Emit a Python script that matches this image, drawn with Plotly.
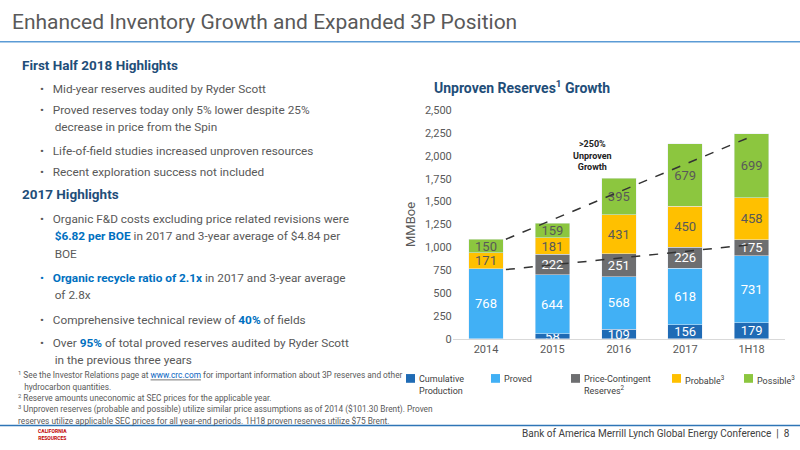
import plotly.graph_objects as go

periods = ['2014', '2015', '2016', '2017', '1H18']
cumulative = [0, 58, 109, 156, 179]
proved = [768, 644, 568, 618, 731]
price_contingent = [0, 222, 251, 226, 175]
probable = [171, 181, 431, 450, 458]
possible = [150, 159, 395, 679, 699]

series = [
    ('Cumulative<br>Production', cumulative, '#1F6BB5', 'white'),
    ('Proved', proved, '#41B0F5', 'white'),
    ('Price-Contingent<br>Reserves<sup>2</sup>', price_contingent, '#6D6E70', 'white'),
    ('Probable<sup>3</sup>', probable, '#FFC000', '#595959'),
    ('Possible<sup>3</sup>', possible, '#8CC63F', '#595959'),
]
legend_x = [406, 491, 571, 672, 744]  # px positions of legend swatches

FONT = 'Roboto'
GRAY = '#595959'
NAVY = '#1F4E79'
BLUE = '#0070C0'

fig = go.Figure()
for name, vals, color, tcol in series:
    fig.add_trace(go.Bar(
        x=periods, y=vals, name=name, marker_color=color, showlegend=False,
        text=[str(v) if v else '' for v in vals], textposition='inside',
        insidetextanchor='middle', textangle=0, constraintext='none',
        textfont=dict(size=13, color=tcol, family=FONT),
    ))

# custom legend
for (name, vals, color, tcol), lx in zip(series, legend_x):
    fig.add_shape(type='rect', xref='paper', yref='paper',
                  x0=lx / 800, x1=(lx + 9) / 800, y0=1 - 388 / 450, y1=1 - 379 / 450,
                  fillcolor=color, line_width=0)
    fig.add_annotation(x=(lx + 11) / 800, y=1 - 377 / 450, xref='paper', yref='paper',
                       xanchor='left', yanchor='top', align='left', showarrow=False,
                       text=name, font=dict(size=9, color='#404040', family=FONT))

totals = [sum(v) for v in zip(cumulative, proved, price_contingent, probable, possible)]
lower_top = [c + p for c, p in zip(cumulative, proved)]

# dashed trend lines
fig.add_shape(type='line', xref='x', yref='y', x0=0.3, y0=totals[0], x1=4, y1=totals[4] - 30,
              line=dict(color='#333333', width=1.5, dash='dash'))
fig.add_shape(type='line', xref='x', yref='y', x0=0.3, y0=lower_top[0] - 10, x1=4, y1=lower_top[4] + 120,
              line=dict(color='#333333', width=1.5, dash='dash'))

fig.add_annotation(x=1.6, y=2000, xref='x', yref='y', showarrow=False,
                   text='<b>>250%<br>Unproven<br>Growth</b>',
                   font=dict(size=9, color='#222222', family=FONT))

# slide chrome
fig.add_annotation(x=0.012, y=0.995, xref='paper', yref='paper', xanchor='left', yanchor='top',
                   showarrow=False, text='Enhanced Inventory Growth and Expanded 3P Position',
                   font=dict(size=21, color=GRAY, family=FONT))
fig.add_shape(type='line', xref='paper', yref='paper', x0=0, x1=1, y0=0.918, y1=0.918,
              line=dict(color='#5B9BD5', width=1.5))
fig.add_shape(type='line', xref='paper', yref='paper', x0=0, x1=1, y0=0.04, y1=0.04,
              line=dict(color='#2E75B6', width=1.5))
fig.add_annotation(x=0.99, y=0.005, xref='paper', yref='paper', xanchor='right', yanchor='bottom',
                   showarrow=False, text='Bank of America Merrill Lynch Global Energy Conference  |  8',
                   font=dict(size=10, color='#404040', family=FONT))
fig.add_annotation(x=0.045, y=0.0, xref='paper', yref='paper', xanchor='left', yanchor='bottom',
                   showarrow=False, text='<b>CALIFORNIA<br>RESOURCES</b>',
                   font=dict(size=5, color='#C00000', family=FONT))
fig.add_annotation(x=0.765, y=1 - 72 / 450, xref='paper', yref='paper', showarrow=False,
                   text='<b>Unproven Reserves<sup>1</sup> Growth</b>',
                   font=dict(size=14, color=NAVY, family=FONT))

B = 11.8
F = 8.3
left = [
    (61, 20, '<b>First Half 2018 Highlights</b>', 13.5, NAVY),
    (85, 38, '•   Mid-year reserves audited by Ryder Scott', B, GRAY),
    (107, 38, '•   Proved reserves today only 5% lower despite 25%', B, GRAY),
    (125, 38, '     decrease in price from the Spin', B, GRAY),
    (149, 38, '•   Life-of-field studies increased unproven resources', B, GRAY),
    (171, 38, '•   Recent exploration success not included', B, GRAY),
    (194, 20, '<b>2017 Highlights</b>', 13.5, NAVY),
    (219, 38, '•   Organic F&D costs excluding price related revisions were', B, GRAY),
    (237, 38, f'     <b><span style="color:{BLUE}">$6.82 per BOE</span></b> in 2017 and 3-year average of $4.84 per', B, GRAY),
    (255, 38, '     BOE', B, GRAY),
    (280, 38, f'<span style="color:{BLUE}">•   <b>Organic recycle ratio of 2.1x</b></span> in 2017 and 3-year average', B, GRAY),
    (298, 38, '     of 2.8x', B, GRAY),
    (323, 38, f'•   Comprehensive technical review of <b><span style="color:{BLUE}">40%</span></b> of fields', B, GRAY),
    (347, 38, f'•   Over <b><span style="color:{BLUE}">95%</span></b> of total proved reserves audited by Ryder Scott', B, GRAY),
    (365, 38, '     in the previous three years', B, GRAY),
    (380, 16, '<sup>1</sup> See the Investor Relations page at <u><span style="color:#0563C1">www.crc.com</span></u> for important information about 3P reserves and other', F, GRAY),
    (392, 16, '   hydrocarbon quantities.', F, GRAY),
    (404, 16, '<sup>2</sup> Reserve amounts uneconomic at SEC prices for the applicable year.', F, GRAY),
    (416, 16, '<sup>3</sup> Unproven reserves (probable and possible) utilize similar price assumptions as of 2014 ($101.30 Brent). Proven', F, GRAY),
    (427, 16, 'reserves utilize applicable SEC prices for all year-end periods. 1H18 proven reserves utilize $75 Brent.', F, GRAY),
]
for ypx, xpx, txt, size, col in left:
    fig.add_annotation(x=xpx / 800, y=1 - ypx / 450, xref='paper', yref='paper', xanchor='left', yanchor='middle',
                       showarrow=False, text=txt, font=dict(size=size, color=col, family=FONT))

fig.update_layout(
    width=800, height=450, barmode='stack', bargap=0.48,
    paper_bgcolor='white', plot_bgcolor='white',
    margin=dict(l=0, r=0, t=0, b=0),
    font=dict(family=FONT, color=GRAY),
    xaxis=dict(domain=[0.566, 0.981], tickfont=dict(size=11, color=GRAY), showline=True,
               linecolor='#D9D9D9', ticks=''),
    yaxis=dict(domain=[0.238, 0.762], range=[0, 2500], dtick=250, tickformat=',',
               tickfont=dict(size=11, color=GRAY), showgrid=False,
               title=dict(text='MMBoe', font=dict(size=13, color=GRAY), standoff=6)),
)

fig.write_html('out.html', config={'displayModeBar': False})

# drop the default body margin so the 800x450 figure fills the window exactly
with open('out.html') as f:
    html = f.read()
html = html.replace('<body>', '<body style="margin:0;overflow:hidden">', 1)
with open('out.html', 'w') as f:
    f.write(html)
